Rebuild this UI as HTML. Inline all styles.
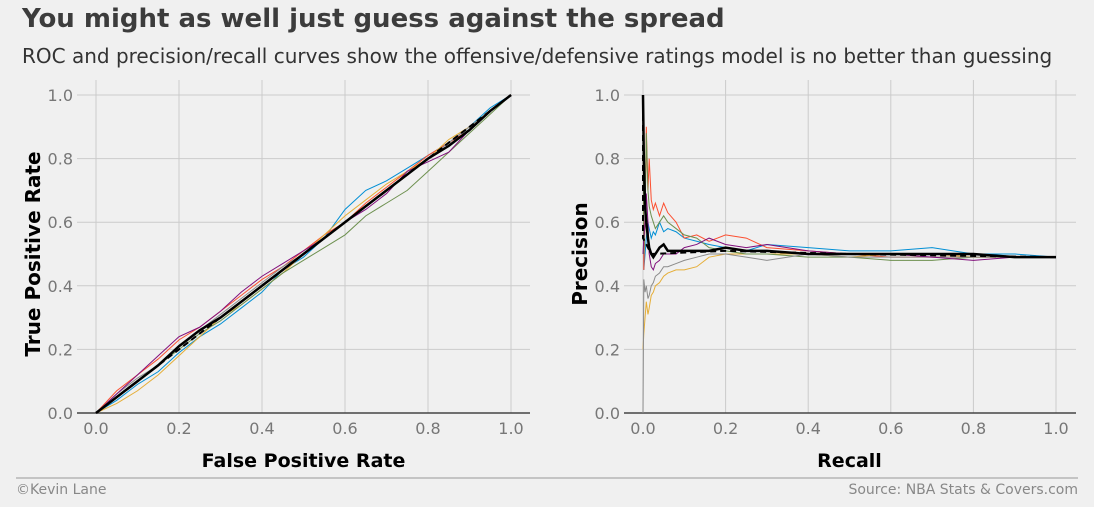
<!DOCTYPE html>
<html><head><meta charset="utf-8"><style>
body{margin:0;background:#f0f0f0;width:1094px;height:502px;overflow:hidden;font-family:"Liberation Sans","DejaVu Sans",sans-serif}
</style></head><body>
<svg id="c" width="1094" height="502" xmlns="http://www.w3.org/2000/svg">
<rect width="1094" height="502" fill="#f0f0f0"/>
<text x="22" y="27" font-size="26" font-weight="bold" fill="#3c3c3c" font-family="DejaVu Sans">You might as well just guess against the spread</text>
<text x="22" y="63" font-size="20" fill="#333" font-family="DejaVu Sans">ROC and precision/recall curves show the offensive/defensive ratings model is no better than guessing</text>
<line x1="16" y1="478" x2="1078" y2="478" stroke="#999" stroke-width="1"/>
<text x="16" y="494" font-size="14" fill="#888" font-family="DejaVu Sans">©Kevin Lane</text>
<text x="1078" y="494" font-size="14" fill="#888" text-anchor="end" font-family="DejaVu Sans">Source: NBA Stats &amp; Covers.com</text>
<g id="left"></g>
<g id="right"></g>
</svg>
<script>
const colors=["#008fd5","#fc4f30","#e5ae38","#6d904f","#8b8b8b","#810f7c"];
const ticks=[0,0.2,0.4,0.6,0.8,1.0];
const tickLabels=["0.0","0.2","0.4","0.6","0.8","1.0"];
const rocX=[0,0.05,0.1,0.15,0.2,0.25,0.3,0.35,0.4,0.45,0.5,0.55,0.6,0.65,0.7,0.75,0.8,0.85,0.9,0.95,1];
const rocY=[
[0,0.04,0.09,0.13,0.19,0.24,0.28,0.33,0.38,0.45,0.49,0.55,0.64,0.7,0.73,0.77,0.81,0.85,0.9,0.96,1],
[0,0.07,0.12,0.17,0.23,0.27,0.32,0.37,0.42,0.46,0.51,0.56,0.6,0.66,0.71,0.76,0.81,0.85,0.89,0.95,1],
[0,0.03,0.07,0.12,0.18,0.24,0.3,0.34,0.39,0.44,0.5,0.56,0.62,0.67,0.72,0.76,0.8,0.86,0.9,0.95,1],
[0,0.05,0.1,0.15,0.2,0.25,0.29,0.34,0.39,0.44,0.48,0.52,0.56,0.62,0.66,0.7,0.76,0.82,0.88,0.94,1],
[0,0.06,0.11,0.15,0.21,0.26,0.31,0.36,0.41,0.46,0.5,0.55,0.6,0.65,0.7,0.75,0.8,0.85,0.9,0.95,1],
[0,0.06,0.12,0.18,0.24,0.27,0.32,0.38,0.43,0.47,0.51,0.55,0.6,0.64,0.69,0.76,0.79,0.82,0.89,0.95,1]];
const rocMean=[0,0.05,0.1,0.15,0.21,0.26,0.3,0.35,0.4,0.45,0.5,0.55,0.6,0.65,0.7,0.75,0.8,0.84,0.89,0.95,1];
const prX=[0,0.002,0.005,0.008,0.012,0.015,0.02,0.025,0.03,0.04,0.05,0.06,0.08,0.1,0.13,0.16,0.2,0.25,0.3,0.4,0.5,0.6,0.7,0.8,0.9,1];
const prY=[
[1,0.45,0.5,0.55,0.6,0.58,0.55,0.57,0.56,0.6,0.57,0.58,0.57,0.55,0.54,0.53,0.52,0.51,0.53,0.52,0.51,0.51,0.52,0.5,0.5,0.49],
[1,0.45,0.62,0.9,0.7,0.8,0.67,0.64,0.66,0.62,0.66,0.63,0.6,0.55,0.56,0.54,0.56,0.55,0.52,0.51,0.5,0.49,0.49,0.49,0.49,0.49],
[0.2,0.25,0.3,0.35,0.31,0.33,0.37,0.38,0.4,0.41,0.43,0.44,0.45,0.45,0.46,0.49,0.5,0.5,0.5,0.5,0.49,0.5,0.5,0.49,0.49,0.49],
[1,0.5,0.6,0.88,0.7,0.65,0.62,0.6,0.58,0.6,0.62,0.6,0.58,0.56,0.55,0.52,0.51,0.5,0.5,0.49,0.49,0.48,0.48,0.49,0.49,0.49],
[0,0.42,0.38,0.4,0.36,0.37,0.4,0.41,0.43,0.44,0.46,0.46,0.47,0.48,0.49,0.5,0.5,0.49,0.48,0.5,0.49,0.49,0.49,0.49,0.49,0.49],
[0.5,0.55,0.6,0.69,0.6,0.5,0.46,0.45,0.47,0.48,0.5,0.5,0.5,0.52,0.53,0.55,0.53,0.52,0.53,0.51,0.5,0.5,0.49,0.48,0.49,0.49]];
const prMean=[1,0.8,0.65,0.6,0.55,0.52,0.5,0.49,0.5,0.52,0.53,0.51,0.51,0.51,0.51,0.51,0.52,0.51,0.51,0.5,0.5,0.5,0.5,0.5,0.49,0.49];
const NS="http://www.w3.org/2000/svg";
function el(t,a,p){const e=document.createElementNS(NS,t);for(const k in a)e.setAttribute(k,a[k]);p.appendChild(e);return e;}
function panel(g,x0,x1,px0,px1,xs,ys,meanY,xt,yt,dashed,nameP){
  const sx=v=>px0+v*(px1-px0), sy=v=>413-v*318;
  ticks.forEach((t,i)=>{
    const gl=el("line",{x1:sx(t),x2:sx(t),y1:80,y2:413,stroke:"#cbcbcb","stroke-width":1},g);
    
    
    const hl=el("line",{x1:x0,x2:x1,y1:sy(t),y2:sy(t),stroke:"#cbcbcb","stroke-width":1},g);
    
    
    const xl=el("text",{x:sx(t),y:434,"font-size":16,fill:"#777","text-anchor":"middle","font-family":"DejaVu Sans"},g);xl.textContent=tickLabels[i];
    
    
    const yl=el("text",{x:x0-4,y:sy(t)+6,"font-size":16,fill:"#777","text-anchor":"end","font-family":"DejaVu Sans"},g);yl.textContent=tickLabels[i];
    
    
  });
  const base=el("line",{x1:x0,x2:x1,y1:413,y2:413,stroke:"#444","stroke-width":1.5},g);
  
  
  ys.forEach((s,i)=>{
    const p=el("polyline",{points:s.map((v,j)=>sx(xs[j])+","+sy(v)).join(" "),fill:"none",stroke:colors[i],"stroke-width":1},g);
    
    
  });
  const m=el("polyline",{points:meanY.map((v,j)=>sx(xs[j])+","+sy(v)).join(" "),fill:"none",stroke:"#000","stroke-width":2.5},g);
  
  
  const d=el("polyline",{points:dashed.map(p=>sx(p[0])+","+sy(p[1])).join(" "),fill:"none",stroke:"#000","stroke-width":2,"stroke-dasharray":"6,4"},g);
  
  
  const xa=el("text",{x:(px0+px1)/2,y:467,"font-size":19,"font-weight":"bold",fill:"#000","text-anchor":"middle","font-family":"DejaVu Sans"},g);xa.textContent=xt;
  
  
  const cx=x0-37,cy=254;
  const ya=el("text",{x:cx,y:cy,"font-size":20,"font-weight":"bold",fill:"#000","text-anchor":"middle","font-family":"DejaVu Sans",transform:`rotate(-90 ${cx} ${cy})`},g);ya.textContent=yt;
  
  
}
panel(document.getElementById("left"),77,530,96,511,rocX,rocY,rocMean,"False Positive Rate","True Positive Rate",[[0,0],[1,1]],"roc");
panel(document.getElementById("right"),624,1076,643,1056,prX,prY,prMean,"Recall","Precision",[[0,1],[0,0.55],[0.02,0.5],[0.2,0.51],[0.5,0.5],[1,0.49]],"pr");
</script>
</body></html>
